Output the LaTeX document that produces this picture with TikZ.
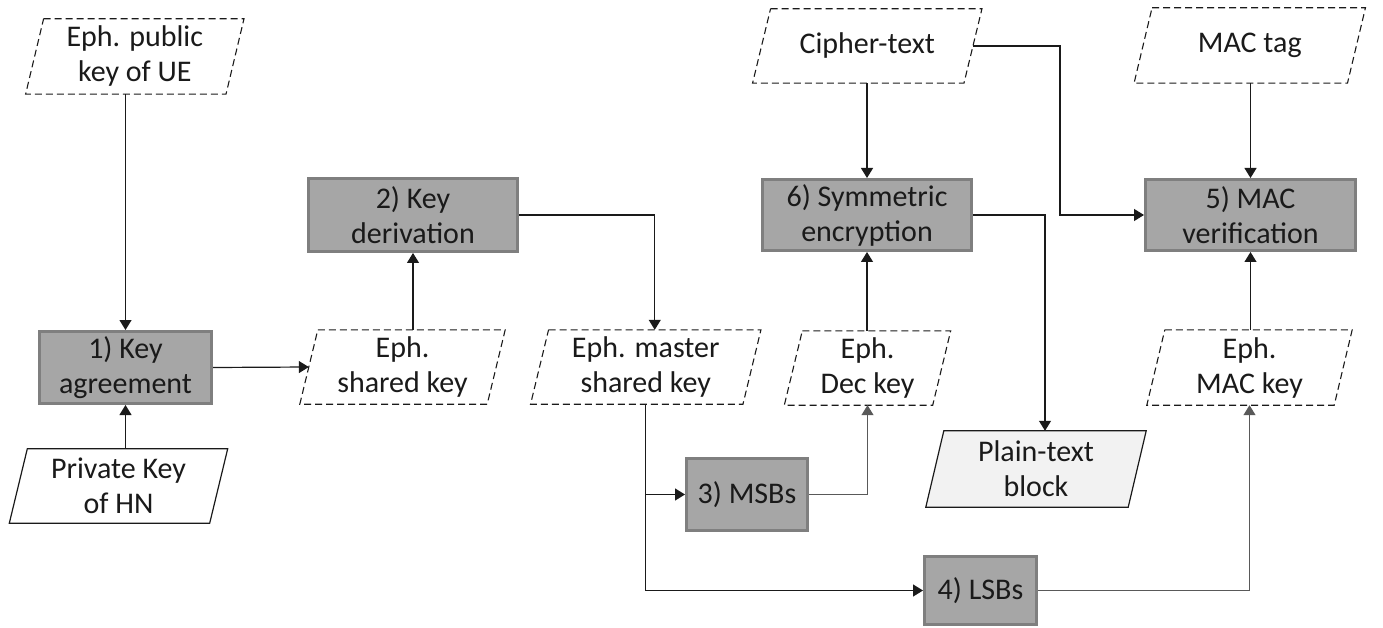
\documentclass[tikz,border=0pt]{standalone}
\usepackage{fontspec}
\setmainfont{Carlito}
\usetikzlibrary{arrows.meta}
\definecolor{boxfill}{HTML}{A6A6A6}
\definecolor{boxdraw}{HTML}{7F7F7F}
\definecolor{plainfill}{HTML}{F2F2F2}
\definecolor{txt}{HTML}{1A1A1A}
\definecolor{lineclr}{HTML}{1A1A1A}
\definecolor{greyline}{HTML}{595959}
\newcommand\datanode[6]{%
  \path node[minimum width=#3pt, minimum height=#4pt, inner sep=0pt] (#1) at (#2) {};
  \draw[#5] ([xshift=9pt]#1.north west) -- ([xshift=9pt]#1.north east)
     -- ([xshift=-9pt]#1.south east) -- ([xshift=-9pt]#1.south west) -- cycle;
  \node[txtnode] (#1-t) at (#1) {#6};
}
\tikzset{
  txtnode/.style={font=\fontsize{30}{35}\selectfont, text=txt, align=center, inner sep=0pt},
  proc/.style 2 args={txtnode, draw=boxdraw, fill=boxfill, line width=3pt,
     minimum width=#1, minimum height=#2},
  dashbox/.style={draw=lineclr, line width=1.1pt, dash pattern=on 7pt off 4pt},
  solidbox/.style={draw=lineclr, line width=1.2pt, fill=white},
  plainbox/.style={draw=lineclr, line width=1.2pt, fill=plainfill},
  arr/.style={draw=lineclr, line width=1.2pt, -{Triangle[length=10pt,width=12pt]}},
  garr/.style={arr, draw=greyline},
  conn/.style={draw=lineclr, line width=1.2pt}
}
\begin{document}
\begin{tikzpicture}[x=1pt,y=-1pt]
\useasboundingbox (0,0) rectangle (1383,628);

% process boxes
\node[proc={172pt}{72pt}] (b1) at (125.5,367.5) {1) Key\\agreement};
\node[proc={209pt}{73pt}] (b2) at (413,215) {2) Key\\derivation};
\node[proc={121pt}{72pt}] (b3) at (747,494.5) {3) MSBs};
\node[proc={112pt}{68pt}] (b4) at (980.5,590.5) {4) LSBs};
\node[proc={210pt}{71pt}] (b5) at (1250.5,215) {5) MAC\\verification};
\node[proc={209pt}{71pt}] (b6) at (867,215) {6) Symmetric\\encryption};

% data nodes
\datanode{ue}{134.8,56.5}{200}{75}{dashbox}{Eph. public\\key of UE}
\datanode{hn}{118.5,486}{200}{74}{solidbox}{Private Key\\of HN}
\datanode{shk}{402.5,367}{187}{74}{dashbox}{Eph.\\shared key}
\datanode{msk}{645.75,367}{212}{74}{dashbox}{Eph. master\\shared key}
\datanode{dec}{867.5,368}{148}{74}{dashbox}{Eph.\\Dec key}
\datanode{mack}{1249.5,367.5}{187}{75}{dashbox}{Eph.\\MAC key}
\datanode{ct}{867.25,46}{211}{74}{dashbox}{Cipher-text}
\datanode{tag}{1249.75,45.5}{213}{75}{dashbox}{MAC tag}
\datanode{pt}{1036,469}{202}{76}{plainbox}{Plain-text\\block}

\coordinate (ctturn) at (1060,46);
\coordinate (ptturn) at (1045,215);

% connectors
\draw[arr] (b1 |- ue.south) -- (b1.north);
\draw[arr] (b1 |- hn.north) -- (b1.south);
\draw[arr] (b1.east) -- (shk.west);
\draw[arr] (b2 |- shk.north) -- (b2.south);
\draw[arr] (b2.east) -| ([xshift=9pt]msk.north);
\draw[arr] (msk.south) |- (b3.west);
\draw[arr] (msk.south) |- (b4.west);
\draw[garr] (b3.east) -| (dec.south);
\draw[arr] (b6 |- dec.north) -- (b6.south);
\draw[arr] (b6 |- ct.south) -- (b6.north);
\draw[arr] (ct.east) -- (ctturn) |- (b5.west);
\draw[arr] (b6.east) -- (ptturn) -- ([xshift=9pt]pt.north);
\draw[arr] (b5 |- tag.south) -- (b5.north);
\draw[arr] (b5 |- mack.north) -- (b5.south);
\draw[garr] (b4.east) -| (mack.south);
\end{tikzpicture}
\end{document}
